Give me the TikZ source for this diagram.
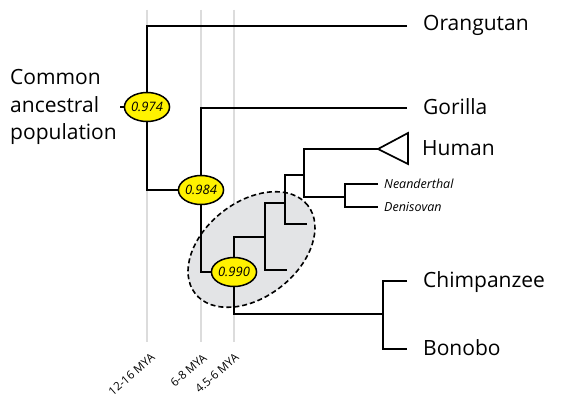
\documentclass[tikz,border=0pt]{standalone}
\usepackage{fontspec}
\setmainfont{Open Sans}
\usetikzlibrary{shapes.geometric}
\definecolor{nodeyellow}{HTML}{FFF200}
\definecolor{gridgray}{HTML}{DCDCDC}
\definecolor{cladegray}{HTML}{E3E4E6}
\tikzset{
  branch/.style={line width=1.7pt, black},
  timeline/.style={line width=1.8pt, gridgray},
  support/.style={ellipse, draw=black, line width=1.5pt, fill=nodeyellow, minimum width=41pt, minimum height=29pt, inner sep=0pt, font=\fontsize{13}{13}\selectfont\itshape},
  taxon/.style={anchor=base west, font=\fontsize{21}{21}\selectfont, inner sep=0pt},
  subtaxon/.style={anchor=base west, font=\fontsize{12.5}{12.5}\selectfont\itshape, inner sep=0pt},
  mya/.style={anchor=east, rotate=41, font=\fontsize{11.5}{11.5}\selectfont, inner sep=0pt}
}
\begin{document}
\begin{tikzpicture}[x=1pt,y=-1pt]
\useasboundingbox (0,0) rectangle (570,404);
% time lines
\coordinate (t1top) at (147,10); \coordinate (t1bot) at (147,342);
\coordinate (t2top) at (201,10); \coordinate (t2bot) at (201,342);
\coordinate (t3top) at (234,10); \coordinate (t3bot) at (234,342);
\draw[timeline] (t1top) -- (t1bot);
\draw[timeline] (t2top) -- (t2bot);
\draw[timeline] (t3top) -- (t3bot);
\node[mya] (m1) at (153,356) {12-16 MYA};
\node[mya] (m2) at (205,356) {6-8 MYA};
\node[mya] (m3) at (237,356) {4.5-6 MYA};
% highlighted clade
\node[ellipse, draw=black, dash pattern=on 5pt off 3pt, line width=1.6pt, fill=cladegray, minimum width=143pt, minimum height=95pt, rotate=38, inner sep=0pt] (clade) at (251.5,249.5) {};
% support nodes
\node[support] (n974) at (147,107) {0.974};
\node[support] (n984) at (201,190) {0.984};
\node[support] (n990) at (234,272) {0.990};
% junctions and leaf ends
\coordinate (stub) at (120,107);
\coordinate (orEnd) at (407,26);
\coordinate (goEnd) at (407,108);
\coordinate (cb) at (383,314);
\coordinate (chEnd) at (407,281);
\coordinate (boEnd) at (407,349);
\coordinate (a) at (265,237);
\coordinate (l1) at (287,270);
\coordinate (b) at (285,203);
\coordinate (l2) at (307,224);
\coordinate (c) at (304,175);
\coordinate (d) at (345,197);
\coordinate (neEnd) at (378,184);
\coordinate (deEnd) at (378,207);
% human triangle
\coordinate (hTip) at (378,149);
\coordinate (hTop) at (408,133);
\coordinate (hBot) at (408,164);
\draw[branch, line join=miter] (hTip) -- (hTop) -- (hBot) -- cycle;
% branches
\draw[branch] (stub) -- (n974);
\draw[branch] (orEnd) -| (n974);
\draw[branch] (n974) |- (n984);
\draw[branch] (goEnd) -| (n984);
\draw[branch] (n984) |- (n990);
\draw[branch] (n990) |- (cb);
\draw[branch] (chEnd) -| (cb) |- (boEnd);
\draw[branch] (n990) |- (a);
\draw[branch] (l1) -| (a) |- (b);
\draw[branch] (l2) -| (b) |- (c);
\draw[branch] (hTip) -| (c) |- (d);
\draw[branch] (neEnd) -| (d) |- (deEnd);
% labels
\node[align=left, anchor=west, font=\fontsize{21}{27.5}\selectfont, inner sep=0pt] (common) at (10,107) {Common\\ancestral\\population};
\node[taxon] (orang) at (423,31) {Orangutan};
\node[taxon] (gor) at (423,114) {Gorilla};
\node[taxon] (hum) at (422,155) {Human};
\node[taxon] (chimp) at (423,287) {Chimpanzee};
\node[taxon] (bon) at (423,355) {Bonobo};
\node[subtaxon] (nea) at (384,188) {Neanderthal};
\node[subtaxon] (den) at (384,211) {Denisovan};
\end{tikzpicture}
\end{document}
